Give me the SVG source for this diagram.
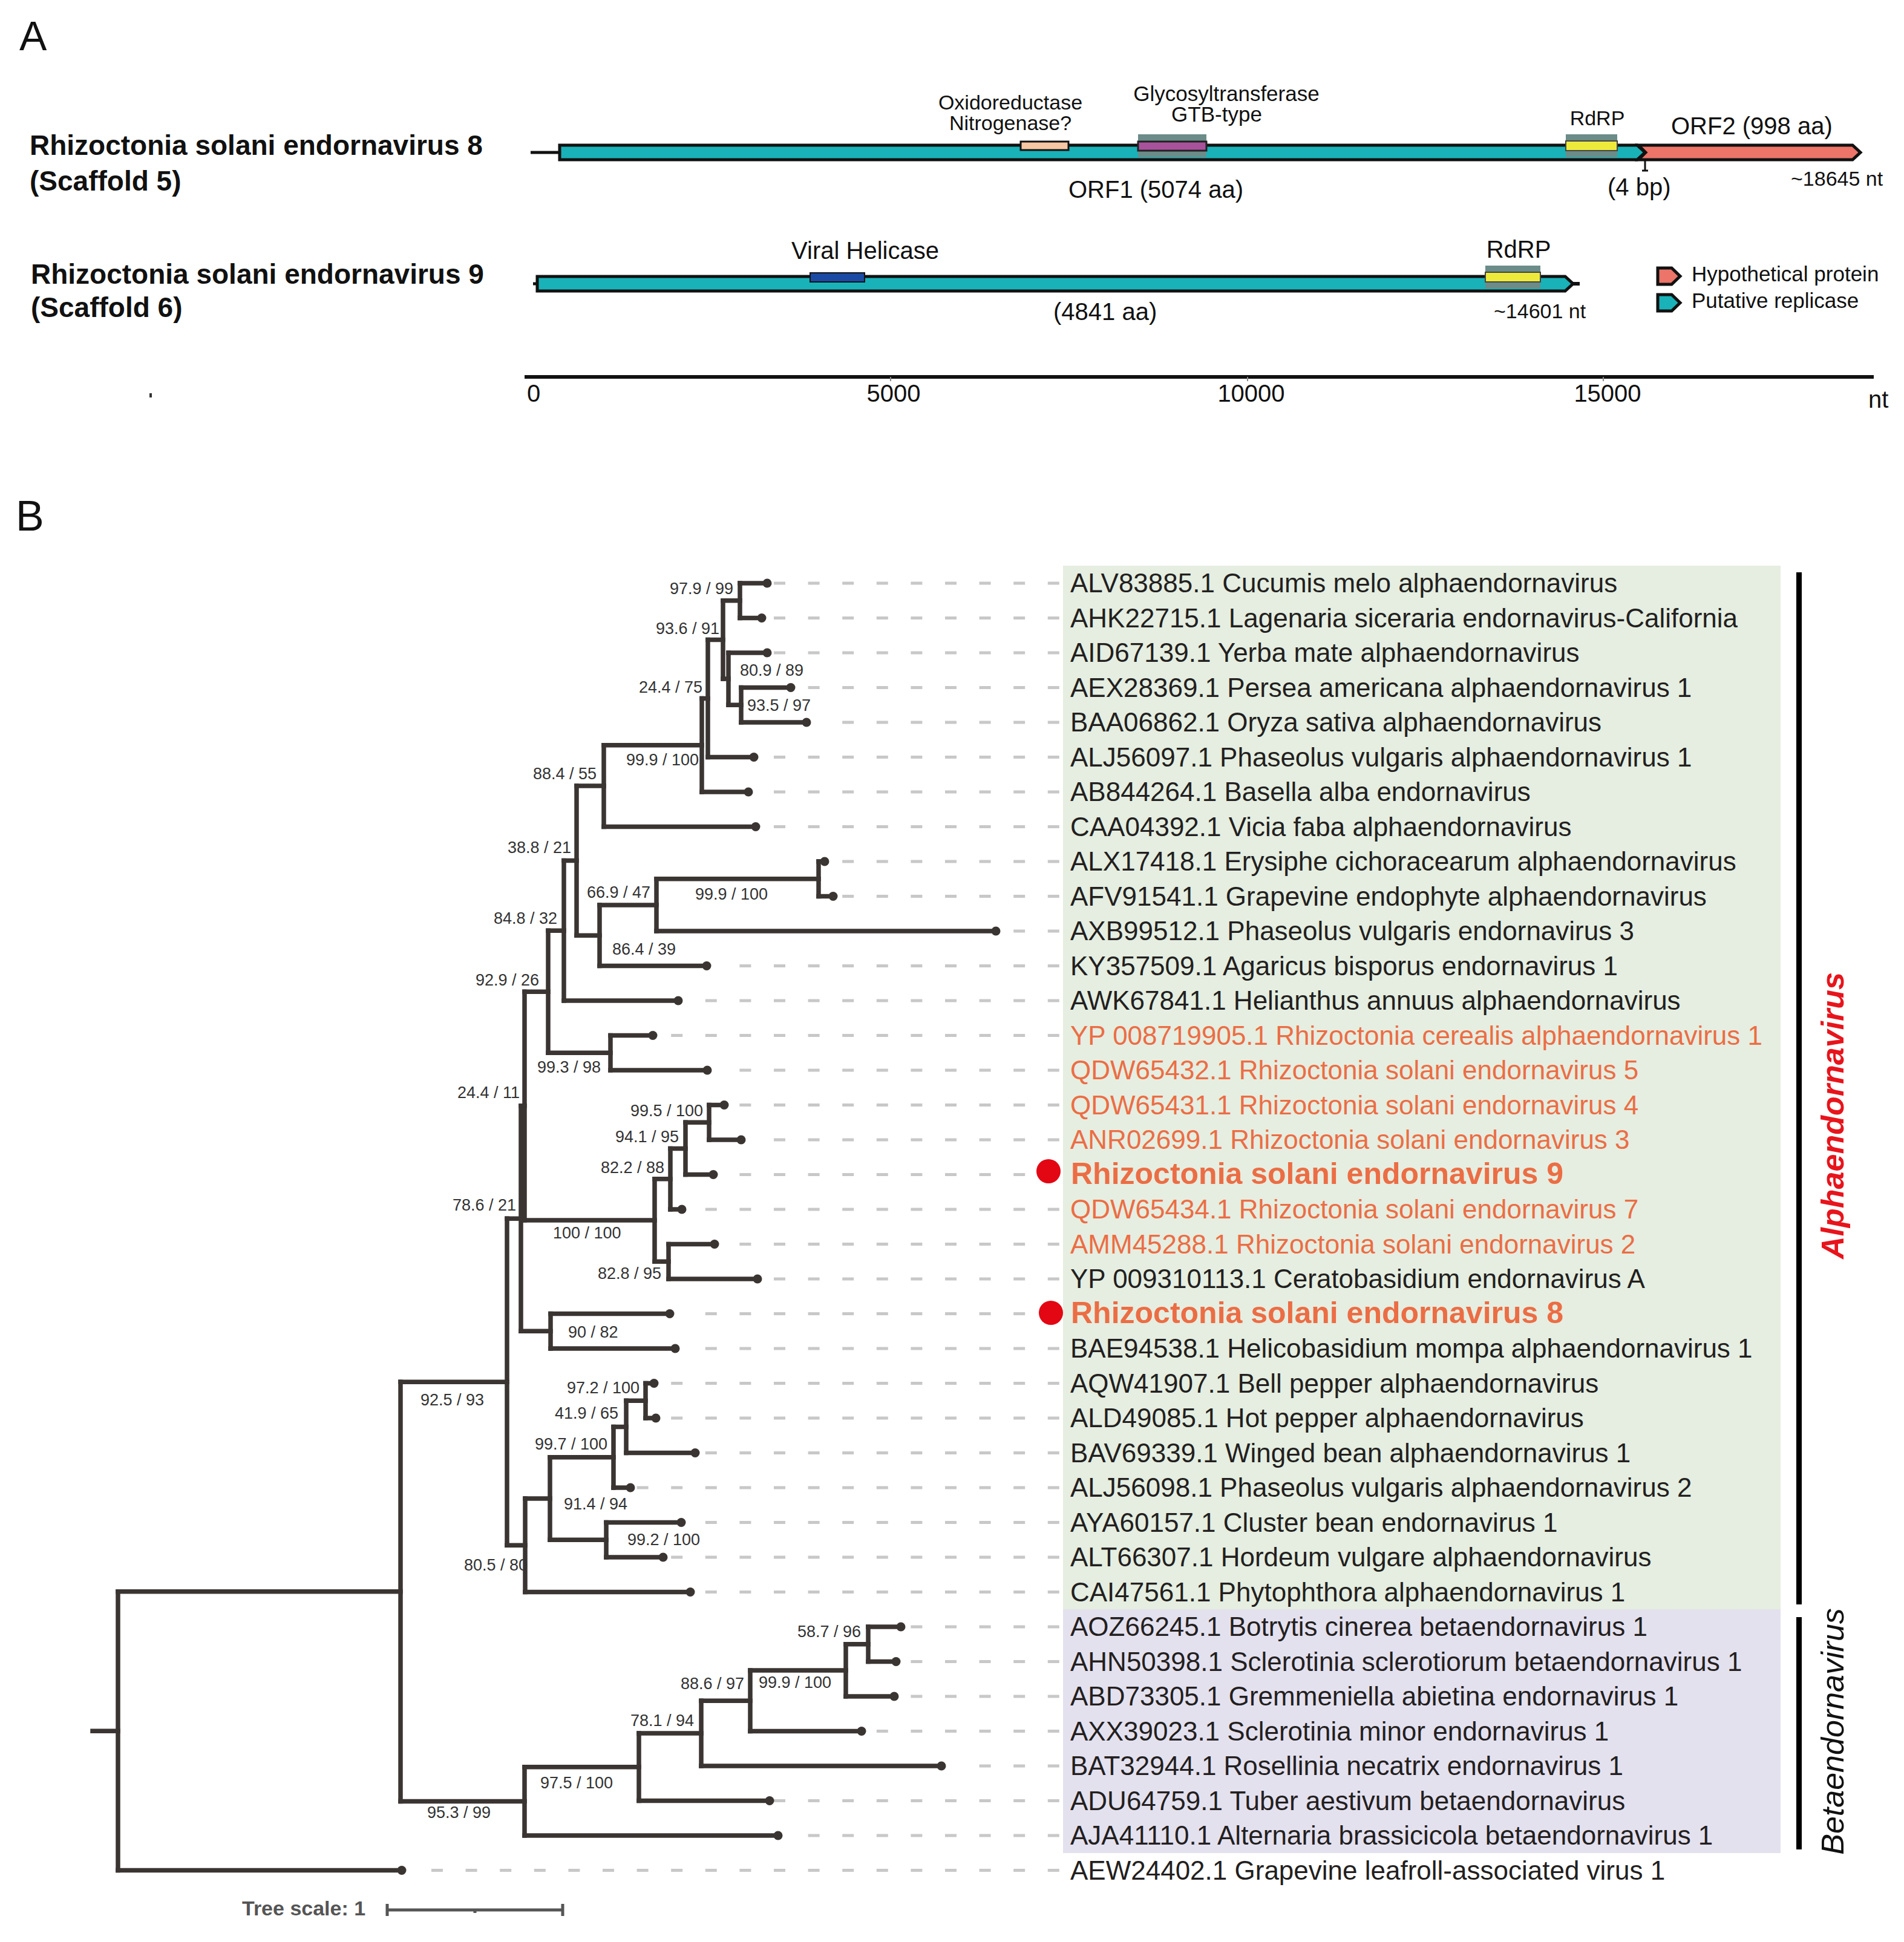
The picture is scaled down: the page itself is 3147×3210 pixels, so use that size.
<svg xmlns="http://www.w3.org/2000/svg" width="3147" height="3210" viewBox="0 0 3147 3210">
<defs>
<style>
.t{font-family:"Liberation Sans",Arial,sans-serif}
.lf{font-family:"Liberation Sans",Arial,sans-serif;font-size:44px;fill:#231f20}
.or{fill:#ec6d44}
.bd{font-weight:bold;font-size:50px}
.bs{font-family:"Liberation Sans",Arial,sans-serif;font-size:27px;fill:#333}
.br{fill:none;stroke:#3a3532;stroke-width:7.5;stroke-linecap:square}
.dash{fill:none;stroke:#c8c8c8;stroke-width:5;stroke-dasharray:19 37.6}
.dot{fill:#3a3532}
.pa{font-family:"Liberation Sans",Arial,sans-serif;fill:#111}
.gb{fill:#6b8c89}
</style>
</defs>
<rect width="3147" height="3210" fill="#ffffff"/>

<!-- Panel A -->
<g id="panelA">
<text class="pa" x="32" y="83" font-size="68">A</text>
<g id="rsev8-label"><text class="pa" x="49" y="256" font-size="46" font-weight="bold">Rhizoctonia solani endornavirus 8</text>
<text class="pa" x="49" y="315" font-size="46" font-weight="bold">(Scaffold 5)</text></g>
<g id="rsev9-label"><text class="pa" x="51" y="469" font-size="46" font-weight="bold">Rhizoctonia solani endornavirus 9</text>
<text class="pa" x="51" y="524" font-size="46" font-weight="bold">(Scaffold 6)</text></g>

<g id="genome8">
<line x1="877" y1="252" x2="925" y2="252" stroke="#111" stroke-width="5"/>
<path d="M925 240H2706L2719 252L2706 264H925Z" fill="#19b2b8" stroke="#111" stroke-width="5"/>
<path d="M2708 240H3062L3075 252L3062 264H2708L2720 252Z" fill="#ec7468" stroke="#111" stroke-width="5"/>
<rect x="1687" y="234" width="79" height="14" fill="#f7c6a3" stroke="#111" stroke-width="3"/>
<rect class="gb" x="1881" y="222" width="113" height="38"/>
<rect x="1881" y="234" width="113" height="15" fill="#a9529c" stroke="#222" stroke-width="3"/>
<rect class="gb" x="2588" y="222" width="85" height="38"/>
<rect x="2588" y="233" width="85" height="16" fill="#eeea3c" stroke="#444" stroke-width="2"/>
<line x1="2719" y1="264" x2="2719" y2="281" stroke="#111" stroke-width="3"/>
<path d="M2714 282H2724" stroke="#111" stroke-width="3"/>
<text class="pa" x="1670" y="181" font-size="34" text-anchor="middle">Oxidoreductase</text>
<text class="pa" x="1670" y="215" font-size="34" text-anchor="middle">Nitrogenase?</text>
<text class="pa" x="2027" y="167" font-size="35" text-anchor="middle">Glycosyltransferase</text>
<text class="pa" x="2011" y="201" font-size="35" text-anchor="middle">GTB-type</text>
<text class="pa" x="2640" y="207" font-size="34" text-anchor="middle">RdRP</text>
<text class="pa" x="2762" y="222" font-size="40">ORF2 (998 aa)</text>
<text class="pa" x="1766" y="327" font-size="40">ORF1 (5074 aa)</text>
<text class="pa" x="2657" y="323" font-size="40">(4 bp)</text>
<text class="pa" x="2960" y="307" font-size="34">~18645 nt</text>
</g>

<g id="genome9">
<line x1="881" y1="469" x2="888" y2="469" stroke="#111" stroke-width="5"/>
<line x1="2596" y1="469" x2="2611" y2="469" stroke="#111" stroke-width="6"/>
<path d="M888 457H2587L2600 469L2587 481H888Z" fill="#19b2b8" stroke="#111" stroke-width="5"/>
<rect x="1339" y="451" width="90" height="15" fill="#1a4aa3" stroke="#111" stroke-width="2"/>
<rect class="gb" x="2455" y="439" width="91" height="38"/>
<rect x="2455" y="450" width="91" height="16" fill="#eeea3c" stroke="#444" stroke-width="2"/>
<text class="pa" x="1430" y="428" font-size="40" text-anchor="middle">Viral Helicase</text>
<text class="pa" x="2510" y="426" font-size="40" text-anchor="middle">RdRP</text>
<text class="pa" x="1741" y="529" font-size="40">(4841 aa)</text>
<text class="pa" x="2469" y="526" font-size="34">~14601 nt</text>
</g>

<g id="legend">
<path d="M2740 443H2763L2777 456.5L2763 470H2740Z" fill="#ec7468" stroke="#111" stroke-width="5"/>
<path d="M2740 487H2763L2777 500.5L2763 514H2740Z" fill="#19b2b8" stroke="#111" stroke-width="5"/>
<text class="pa" x="2796" y="465" font-size="35">Hypothetical protein</text>
<text class="pa" x="2796" y="509" font-size="35">Putative replicase</text>
</g>

<g id="axis">
<line x1="867" y1="623" x2="3097" y2="623" stroke="#111" stroke-width="6"/>
<path d="M1472 623V630M2062 623V630M2650 623V630" stroke="#888" stroke-width="2"/>
<text class="pa" x="882" y="664" font-size="40" text-anchor="middle">0</text>
<text class="pa" x="1477" y="664" font-size="40" text-anchor="middle">5000</text>
<text class="pa" x="2068" y="664" font-size="40" text-anchor="middle">10000</text>
<text class="pa" x="2657" y="664" font-size="40" text-anchor="middle">15000</text>
<text class="pa" x="3088" y="674" font-size="40">nt</text>
<rect x="247" y="650" width="4" height="7" fill="#333"/>
</g>
</g>

<!-- Panel B -->
<text class="pa" x="26" y="877" font-size="70">B</text>

<g id="backgrounds">
<rect x="1757" y="935" width="1186" height="1725" fill="#e5eee1"/>
<rect x="1757" y="2660" width="1186" height="403" fill="#e4e1ef"/>
</g>

<g id="leaders">
<path class="dash" d="M1279 964H1752M1279 1021.5H1752M1279 1079H1752M1335.6 1136.5H1752M1392.2 1194H1752M1279 1251.5H1752M1279 1309H1752M1279 1366.5H1752M1392.2 1424H1752M1392.2 1481.5H1752M1675.2 1539H1752M1222.4 1596.5H1752M1165.8 1654H1752M1109.2 1711.5H1752M1222.4 1769H1752M1222.4 1826.5H1752M1279 1884H1752M1222.4 1941.5H1752M1165.8 1999H1752M1222.4 2056.5H1752M1279 2114H1752M1165.8 2171.5H1752M1165.8 2229H1752M1109.2 2286.5H1752M1109.2 2344H1752M1165.8 2401.5H1752M1052.6 2459H1752M1165.8 2516.5H1752M1109.2 2574H1752M1165.8 2631.5H1752M1505.4 2689H1752M1505.4 2746.5H1752M1505.4 2804H1752M1448.8 2861.5H1752M1618.6 2919H1752M1279 2976.5H1752M1335.6 3034H1752M713 3091.5H1752"/>
</g>

<g id="connectors">
<path class="br" d="M1223 964V1021.5M1225 1136.5V1194M1204 1079V1165.25M1195 992.75V1122.1M1170 1057.4V1251.5M1160 1154.5V1309M998 1231.7V1366.5M1353 1424V1481.5M1085 1452.75V1539M991 1495.9V1596.5M953 1299.1V1546.2M932 1422.6V1654M1009 1711.5V1769M906 1538.3V1740.25M1172 1826.5V1884M1133 1855.25V1941.5M1108 1898.4V1999M1105 2056.5V2114M1082 1948.7V2085.25M867 1639.3V2017M910 2171.5V2229M861 1828.1V2200.25M1067 2286.5V2344M1035 2315.25V2401.5M1014 2358.4V2459M1002 2516.5V2574M909 2408.7V2545.25M868 2477V2631.5M838 2014.2V2554.25M1435 2689V2746.5M1398 2717.75V2804M1240 2760.9V2861.5M1159 2811.2V2919M1056 2865.1V2976.5M867 2920.8V3034M662 2284.2V2977.4M195 2630.8V3091.5"/>
<path class="br" d="M1223 964H1268M1223 1021.5H1259M1225 1136.5H1307M1225 1194H1333M1204 1079H1268M1204 1165.25H1225M1195 992.75H1223M1195 1122.1H1204M1170 1057.4H1195M1170 1251.5H1246M1160 1154.5H1170M1160 1309H1237M998 1231.7H1160M998 1366.5H1249M1353 1424H1363M1353 1481.5H1377M1085 1452.75H1353M1085 1539H1646M991 1495.9H1085M991 1596.5H1168M953 1299.1H998M953 1546.2H991M932 1422.6H953M932 1654H1121M1009 1711.5H1079M1009 1769H1169M906 1538.3H932M906 1740.25H1009M1172 1826.5H1197M1172 1884H1225M1133 1855.25H1172M1133 1941.5H1179M1108 1898.4H1133M1108 1999H1127M1105 2056.5H1181M1105 2114H1252M1082 1948.7H1108M1082 2085.25H1105M867 1639.3H906M867 2017H1082M910 2171.5H1107M910 2229H1116M861 1828.1H867M861 2200.25H910M1067 2286.5H1081M1067 2344H1084M1035 2315.25H1067M1035 2401.5H1149M1014 2358.4H1035M1014 2459H1042M1002 2516.5H1126M1002 2574H1096M909 2408.7H1014M909 2545.25H1002M868 2477H909M868 2631.5H1141M838 2014.2H861M838 2554.25H868M1435 2689H1489M1435 2746.5H1481M1398 2717.75H1435M1398 2804H1478M1240 2760.9H1398M1240 2861.5H1424M1159 2811.2H1240M1159 2919H1556M1056 2865.1H1159M1056 2976.5H1272M867 2920.8H1056M867 3034H1286M662 2284.2H838M662 2977.4H867M195 2630.8H662M195 3091.5H664M153 2861.2H195"/>
</g>

<g id="support-values" class="bs">
<text x="1107" y="982">97.9 / 99</text>
<text x="1084" y="1048">93.6 / 91</text>
<text x="1223" y="1117">80.9 / 89</text>
<text x="1056" y="1145">24.4 / 75</text>
<text x="1235" y="1175">93.5 / 97</text>
<text x="1035" y="1265">99.9 / 100</text>
<text x="881" y="1288">88.4 / 55</text>
<text x="839" y="1410">38.8 / 21</text>
<text x="970" y="1484">66.9 / 47</text>
<text x="1149" y="1487">99.9 / 100</text>
<text x="816" y="1527">84.8 / 32</text>
<text x="1012" y="1578">86.4 / 39</text>
<text x="786" y="1629">92.9 / 26</text>
<text x="888" y="1773">99.3 / 98</text>
<text x="756" y="1815">24.4 / 11</text>
<text x="1042" y="1845">99.5 / 100</text>
<text x="1017" y="1888">94.1 / 95</text>
<text x="993" y="1939">82.2 / 88</text>
<text x="748" y="2001">78.6 / 21</text>
<text x="914" y="2047">100 / 100</text>
<text x="988" y="2114">82.8 / 95</text>
<text x="939" y="2211">90 / 82</text>
<text x="937" y="2303">97.2 / 100</text>
<text x="695" y="2323">92.5 / 93</text>
<text x="917" y="2345">41.9 / 65</text>
<text x="884" y="2396">99.7 / 100</text>
<text x="932" y="2495">91.4 / 94</text>
<text x="1037" y="2554">99.2 / 100</text>
<text x="767" y="2596">80.5 / 80</text>
<text x="1318" y="2706">58.7 / 96</text>
<text x="1254" y="2790">99.9 / 100</text>
<text x="1125" y="2792">88.6 / 97</text>
<text x="1042" y="2853">78.1 / 94</text>
<text x="893" y="2956">97.5 / 100</text>
<text x="706" y="3005">95.3 / 99</text>
</g>

<g id="leaves">
<g id="leaf0"><circle class="dot" cx="1268" cy="964" r="7.5"/><text class="lf" x="1769" y="979">ALV83885.1 Cucumis melo alphaendornavirus</text></g>
<g id="leaf1"><circle class="dot" cx="1259" cy="1021.5" r="7.5"/><text class="lf" x="1769" y="1036.5">AHK22715.1 Lagenaria siceraria endornavirus-California</text></g>
<g id="leaf2"><circle class="dot" cx="1268" cy="1079" r="7.5"/><text class="lf" x="1769" y="1094">AID67139.1 Yerba mate alphaendornavirus</text></g>
<g id="leaf3"><circle class="dot" cx="1307" cy="1136.5" r="7.5"/><text class="lf" x="1769" y="1151.5">AEX28369.1 Persea americana alphaendornavirus 1</text></g>
<g id="leaf4"><circle class="dot" cx="1333" cy="1194" r="7.5"/><text class="lf" x="1769" y="1209">BAA06862.1 Oryza sativa alphaendornavirus</text></g>
<g id="leaf5"><circle class="dot" cx="1246" cy="1251.5" r="7.5"/><text class="lf" x="1769" y="1266.5">ALJ56097.1 Phaseolus vulgaris alphaendornavirus 1</text></g>
<g id="leaf6"><circle class="dot" cx="1237" cy="1309" r="7.5"/><text class="lf" x="1769" y="1324">AB844264.1 Basella alba endornavirus</text></g>
<g id="leaf7"><circle class="dot" cx="1249" cy="1366.5" r="7.5"/><text class="lf" x="1769" y="1381.5">CAA04392.1 Vicia faba alphaendornavirus</text></g>
<g id="leaf8"><circle class="dot" cx="1363" cy="1424" r="7.5"/><text class="lf" x="1769" y="1439">ALX17418.1 Erysiphe cichoracearum alphaendornavirus</text></g>
<g id="leaf9"><circle class="dot" cx="1377" cy="1481.5" r="7.5"/><text class="lf" x="1769" y="1496.5">AFV91541.1 Grapevine endophyte alphaendornavirus</text></g>
<g id="leaf10"><circle class="dot" cx="1646" cy="1539" r="7.5"/><text class="lf" x="1769" y="1554">AXB99512.1 Phaseolus vulgaris endornavirus 3</text></g>
<g id="leaf11"><circle class="dot" cx="1168" cy="1596.5" r="7.5"/><text class="lf" x="1769" y="1611.5">KY357509.1 Agaricus bisporus endornavirus 1</text></g>
<g id="leaf12"><circle class="dot" cx="1121" cy="1654" r="7.5"/><text class="lf" x="1769" y="1669">AWK67841.1 Helianthus annuus alphaendornavirus</text></g>
<g id="leaf13"><circle class="dot" cx="1079" cy="1711.5" r="7.5"/><text class="lf or" x="1769" y="1726.5">YP 008719905.1 Rhizoctonia cerealis alphaendornavirus 1</text></g>
<g id="leaf14"><circle class="dot" cx="1169" cy="1769" r="7.5"/><text class="lf or" x="1769" y="1784">QDW65432.1 Rhizoctonia solani endornavirus 5</text></g>
<g id="leaf15"><circle class="dot" cx="1197" cy="1826.5" r="7.5"/><text class="lf or" x="1769" y="1841.5">QDW65431.1 Rhizoctonia solani endornavirus 4</text></g>
<g id="leaf16"><circle class="dot" cx="1225" cy="1884" r="7.5"/><text class="lf or" x="1769" y="1899">ANR02699.1 Rhizoctonia solani endornavirus 3</text></g>
<g id="leaf17"><circle class="dot" cx="1179" cy="1941.5" r="7.5"/><circle cx="1733" cy="1936" r="20" fill="#e30613"/><text class="lf or bd" x="1770" y="1957">Rhizoctonia solani endornavirus 9</text></g>
<g id="leaf18"><circle class="dot" cx="1127" cy="1999" r="7.5"/><text class="lf or" x="1769" y="2014">QDW65434.1 Rhizoctonia solani endornavirus 7</text></g>
<g id="leaf19"><circle class="dot" cx="1181" cy="2056.5" r="7.5"/><text class="lf or" x="1769" y="2071.5">AMM45288.1 Rhizoctonia solani endornavirus 2</text></g>
<g id="leaf20"><circle class="dot" cx="1252" cy="2114" r="7.5"/><text class="lf" x="1769" y="2129">YP 009310113.1 Ceratobasidium endornavirus A</text></g>
<g id="leaf21"><circle class="dot" cx="1107" cy="2171.5" r="7.5"/><circle cx="1737" cy="2170" r="20" fill="#e30613"/><text class="lf or bd" x="1770" y="2187">Rhizoctonia solani endornavirus 8</text></g>
<g id="leaf22"><circle class="dot" cx="1116" cy="2229" r="7.5"/><text class="lf" x="1769" y="2244">BAE94538.1 Helicobasidium mompa alphaendornavirus 1</text></g>
<g id="leaf23"><circle class="dot" cx="1081" cy="2286.5" r="7.5"/><text class="lf" x="1769" y="2301.5">AQW41907.1 Bell pepper alphaendornavirus</text></g>
<g id="leaf24"><circle class="dot" cx="1084" cy="2344" r="7.5"/><text class="lf" x="1769" y="2359">ALD49085.1 Hot pepper alphaendornavirus</text></g>
<g id="leaf25"><circle class="dot" cx="1149" cy="2401.5" r="7.5"/><text class="lf" x="1769" y="2416.5">BAV69339.1 Winged bean alphaendornavirus 1</text></g>
<g id="leaf26"><circle class="dot" cx="1042" cy="2459" r="7.5"/><text class="lf" x="1769" y="2474">ALJ56098.1 Phaseolus vulgaris alphaendornavirus 2</text></g>
<g id="leaf27"><circle class="dot" cx="1126" cy="2516.5" r="7.5"/><text class="lf" x="1769" y="2531.5">AYA60157.1 Cluster bean endornavirus 1</text></g>
<g id="leaf28"><circle class="dot" cx="1096" cy="2574" r="7.5"/><text class="lf" x="1769" y="2589">ALT66307.1 Hordeum vulgare alphaendornavirus</text></g>
<g id="leaf29"><circle class="dot" cx="1141" cy="2631.5" r="7.5"/><text class="lf" x="1769" y="2646.5">CAI47561.1 Phytophthora alphaendornavirus 1</text></g>
<g id="leaf30"><circle class="dot" cx="1489" cy="2689" r="7.5"/><text class="lf" x="1769" y="2704">AOZ66245.1 Botrytis cinerea betaendornavirus 1</text></g>
<g id="leaf31"><circle class="dot" cx="1481" cy="2746.5" r="7.5"/><text class="lf" x="1769" y="2761.5">AHN50398.1 Sclerotinia sclerotiorum betaendornavirus 1</text></g>
<g id="leaf32"><circle class="dot" cx="1478" cy="2804" r="7.5"/><text class="lf" x="1769" y="2819">ABD73305.1 Gremmeniella abietina endornavirus 1</text></g>
<g id="leaf33"><circle class="dot" cx="1424" cy="2861.5" r="7.5"/><text class="lf" x="1769" y="2876.5">AXX39023.1 Sclerotinia minor endornavirus 1</text></g>
<g id="leaf34"><circle class="dot" cx="1556" cy="2919" r="7.5"/><text class="lf" x="1769" y="2934">BAT32944.1 Rosellinia necatrix endornavirus 1</text></g>
<g id="leaf35"><circle class="dot" cx="1272" cy="2976.5" r="7.5"/><text class="lf" x="1769" y="2991.5">ADU64759.1 Tuber aestivum betaendornavirus</text></g>
<g id="leaf36"><circle class="dot" cx="1286" cy="3034" r="7.5"/><text class="lf" x="1769" y="3049">AJA41110.1 Alternaria brassicicola betaendornavirus 1</text></g>
<g id="leaf37"><circle class="dot" cx="664" cy="3091.5" r="7.5"/><text class="lf" x="1769" y="3106.5">AEW24402.1 Grapevine leafroll-associated virus 1</text></g>
</g>

<g id="clades">
<rect x="2969" y="946" width="9" height="1706" fill="#000"/>
<rect x="2969" y="2673" width="9" height="384" fill="#000"/>
<text class="t" transform="translate(3047,1844) rotate(-90)" text-anchor="middle" font-size="52" font-weight="bold" font-style="italic" fill="#e8141c">Alphaendornavirus</text>
<text class="t" transform="translate(3047,2862) rotate(-90)" text-anchor="middle" font-size="52" font-style="italic" fill="#111">Betaendornavirus</text>
</g>

<g id="tree-scale">
<text class="t" x="400" y="3166" font-size="34" font-weight="bold" fill="#555">Tree scale: 1</text>
<path d="M640 3157H930M640 3147V3167M930 3147V3167M785 3157V3162" stroke="#555" stroke-width="5" fill="none"/>
</g>
</svg>
